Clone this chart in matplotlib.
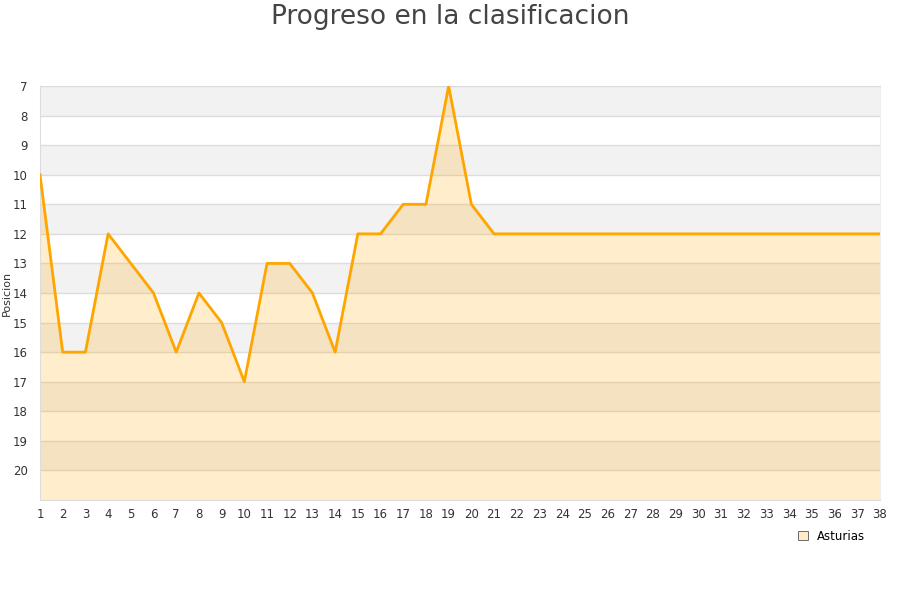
import matplotlib
matplotlib.use("Agg")
import matplotlib.pyplot as plt
from matplotlib.patches import Patch

jornadas = list(range(1, 39))
posiciones = [10, 16, 16, 12, 13, 14, 16, 14, 15, 17, 13, 13, 14, 16, 12, 12, 11, 11, 7, 11,
              12, 12, 12, 12, 12, 12, 12, 12, 12, 12, 12, 12, 12, 12, 12, 12, 12, 12]
equipo = "Asturias"
y_top, y_bottom = 7, 21

fig = plt.figure(figsize=(9, 6), dpi=100)
ax = fig.add_axes([40 / 900, 1 - 500 / 600, 840 / 900, 414 / 600])

# bandas alternas
for i, y in enumerate(range(y_top, y_bottom)):
    if i % 2 == 0:
        ax.axhspan(y, y + 1, color="#f2f2f2", zorder=0, lw=0)
    ax.axhline(y, color="#dddddd", lw=1, zorder=1)

ax.fill_between(jornadas, posiciones, y_bottom, color="#ffa500", alpha=0.2, lw=0, zorder=2)
ax.plot(jornadas, posiciones, color="#ffa500", lw=2, zorder=3)

ax.set_xlim(1, 38)
ax.set_ylim(y_bottom, y_top)
ax.set_xticks(jornadas)
ax.set_yticks(range(y_top, y_bottom))
ax.tick_params(length=0, labelsize=8.5, colors="#333333", pad=6)
ax.tick_params(axis="y", pad=9)
ax.spines["bottom"].set_color("#dddddd")
ax.spines["left"].set_color("#dddddd")
ax.spines["right"].set_color("#eeeeee")
ax.spines["top"].set_color("#dddddd")
ax.set_ylabel("Posicion", fontsize=8, color="#333333")
ax.yaxis.set_label_coords(-28 / 840, 0.5)

fig.suptitle("Progreso en la clasificacion", fontsize=19, color="#444444", y=0.993)

handle = Patch(facecolor="#ffebc8", edgecolor="#555555", lw=0.6)
fig.legend([handle], [equipo], loc="center", bbox_to_anchor=(832 / 900, 1 - 536 / 600),
           frameon=False, fontsize=8.5, handlelength=0.8, handleheight=0.8, handletextpad=0.8)

fig.savefig("out.png", dpi=100)
